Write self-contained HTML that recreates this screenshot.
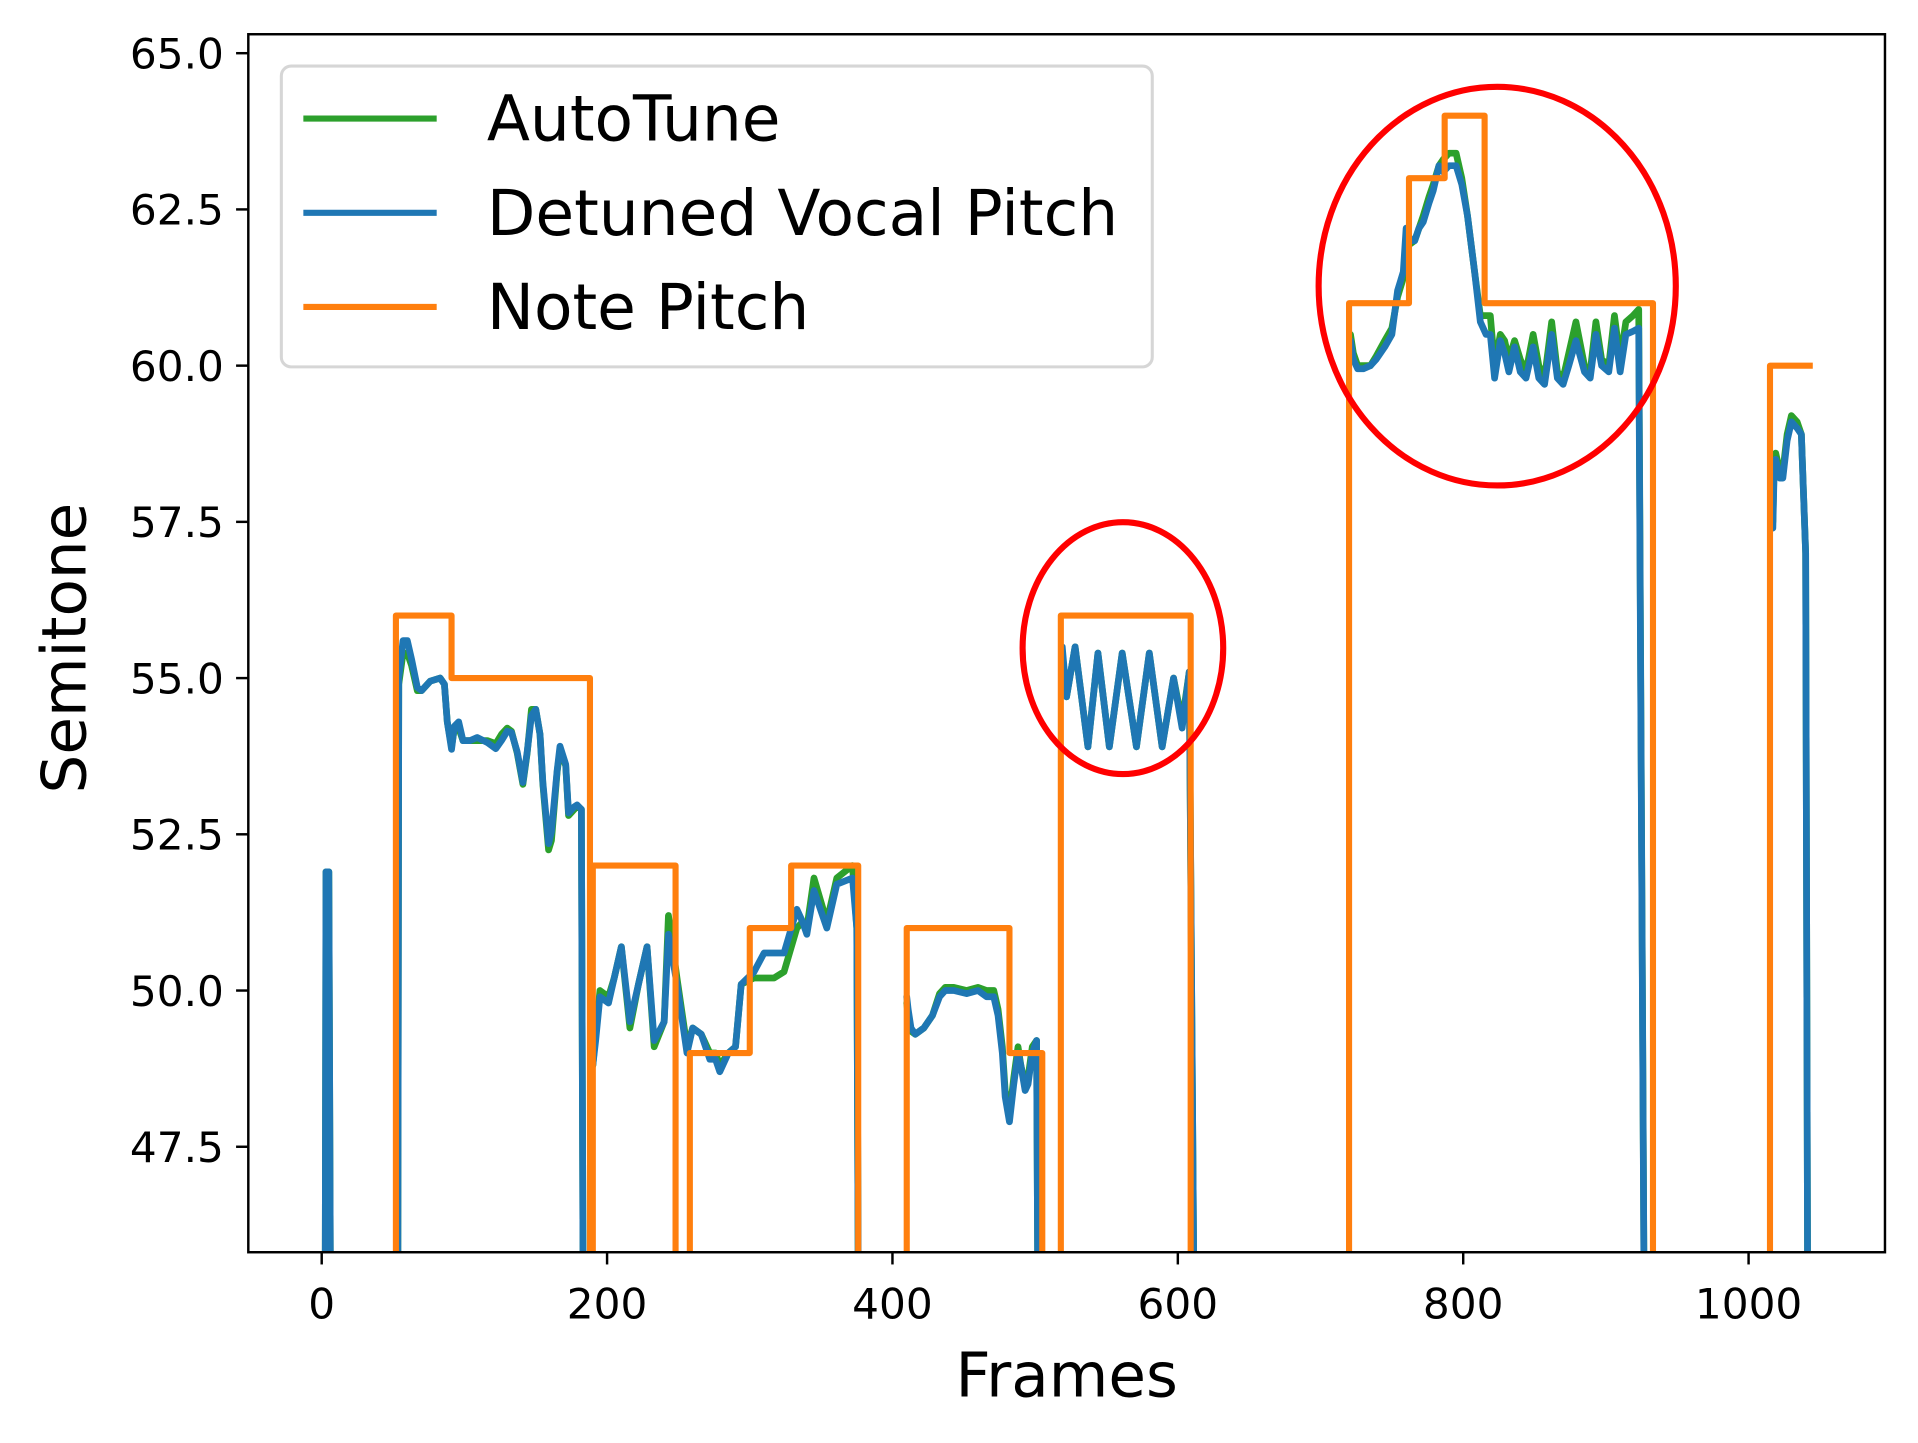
<!DOCTYPE html>
<html><head><meta charset="utf-8"><style>
html,body{margin:0;padding:0;background:#fff;overflow:hidden;width:1918px;height:1443px;}
svg{display:block;}
text{font-family:"DejaVu Sans","Liberation Sans",sans-serif;fill:#000;}
</style></head><body>
<svg id="chart" width="1918" height="1443" viewBox="0 0 1568 1180" preserveAspectRatio="none" xmlns="http://www.w3.org/2000/svg">
<defs><clipPath id="plotclip"><rect x="203" y="28" width="1338" height="996"/></clipPath></defs>
<rect x="0" y="0" width="1568" height="1180" fill="#fff"/>
<g id="xticks"></g>
<g id="yticks"></g>
<g id="series" clip-path="url(#plotclip)"></g>
<rect x="203" y="28" width="1338" height="996" fill="none" stroke="#000" stroke-width="2"/>
<text x="872" y="1142" font-size="50" text-anchor="middle">Frames</text>
<text transform="translate(70,530) rotate(-90)" font-size="50" text-anchor="middle">Semitone</text>
<ellipse cx="918" cy="530" rx="82" ry="103" fill="none" stroke="#ff0000" stroke-width="5"/>
<ellipse cx="1224" cy="234" rx="146" ry="163" fill="none" stroke="#ff0000" stroke-width="5"/>
<g>
<rect x="230" y="54" width="712" height="246" rx="8" fill="#fff" fill-opacity="0.8" stroke="#d6d6d6" stroke-width="2.5"/>
<line x1="248" y1="97" x2="357" y2="97" stroke="#2ca02c" stroke-width="5"/>
<text x="398" y="115" font-size="51.5">AutoTune</text>
<line x1="248" y1="174" x2="357" y2="174" stroke="#1f77b4" stroke-width="5"/>
<text x="398" y="192" font-size="51.5">Detuned Vocal Pitch</text>
<line x1="248" y1="251" x2="357" y2="251" stroke="#ff7f0e" stroke-width="5"/>
<text x="398" y="269" font-size="51.5">Note Pitch</text>
</g>
</svg>
<script>
const xTickValues = [0, 200, 400, 600, 800, 1000];
const yTickValues = [47.5, 50.0, 52.5, 55.0, 57.5, 60.0, 62.5, 65.0];
const noteFrames = [52,52,91,91,188,188,190,190,248,248,258,258,300,300,329,329,376,376,410,410,482,482,505,505,518,518,609,609,720,720,762,762,787,787,815,815,933,933,1015,1015,1045];
const noteValues = [40,56,56,55,55,40,40,52,52,40,40,49,49,51,51,52,52,40,40,51,51,49,49,40,40,56,56,40,40,61,61,63,63,64,64,61,61,40,40,60,60];
const pitchFrames = [2,3,5,7,null,
53,54,57,60,63,67,70,76,83,86,88,91,93,96,99,104,109,116,122,126,130,133,137,141,144,147,150,153,155,159,161,165,167,171,173,177,179,182,184,186,null,
190,192,195,201,205,210,216,222,228,233,240,243,249,256,260,266,272,276,279,285,290,294,303,310,317,324,333,337,340,345,354,361,372,375,377,380,null,
410,411,413,416,422,428,433,437,443,452,460,466,471,474,477,479,482,485,488,490,493,495,498,501,503,505,null,
519,522,528,537,544,552,561,571,580,589,597,603,608,613,616,null,
721,723,726,730,735,739,745,750,754,758,760,763,766,769,772,776,779,783,786,790,795,799,803,808,812,816,819,822,826,829,832,836,840,844,849,853,857,862,866,870,874,879,885,889,893,897,902,906,910,914,919,923,928,932,null,
1017,1018,1019,1022,1024,1027,1030,1034,1037,1040,1042,1043];
const detunedValues = [40,51.9,51.9,40,null,
40,55.0,55.6,55.6,55.3,54.85,54.8,54.95,55.0,54.9,54.3,53.86,54.23,54.3,54.0,54.0,54.05,53.97,53.87,54.0,54.15,54.13,53.82,53.33,53.82,54.4,54.5,54.1,53.33,52.35,52.54,53.52,53.91,53.62,52.84,52.94,52.97,52.9,40,null,
40,48.8,49.2,49.9,49.8,50.2,50.7,49.5,50.1,50.7,49.2,49.5,50.9,50.1,49.0,49.4,49.3,48.9,48.9,48.7,49.0,49.1,50.1,50.3,50.6,50.6,50.6,51.3,51.1,50.9,51.6,51.0,51.7,51.8,51.0,40,null,
40,49.9,49.7,49.4,49.3,49.4,49.6,49.9,50.0,50.0,49.95,50.0,49.9,49.9,49.6,49.0,48.3,47.9,48.5,49.0,48.8,48.4,48.5,49.0,49.2,40,null,
40,55.5,54.7,55.5,53.9,55.4,53.9,55.4,53.9,55.4,53.9,55.0,54.2,55.1,40,null,
40,60.4,60.1,59.95,59.95,60.0,60.1,60.3,60.5,61.2,61.5,62.2,62.0,62.0,62.2,62.3,62.6,62.8,63.2,63.1,63.2,63.2,62.9,62.4,61.5,60.7,60.5,60.5,59.8,60.4,60.2,59.9,60.3,59.9,59.8,60.3,59.8,59.7,60.5,59.8,59.7,60.0,60.4,59.9,59.8,60.5,60.0,59.9,60.6,59.9,60.5,60.55,60.6,40,null,
40,57.4,58.4,58.5,58.2,58.2,58.8,59.1,59.0,58.9,57.0,40];
const autotuneValues = [40,51.9,51.9,40,null,
40,54.9,55.4,55.4,55.2,54.8,54.8,54.95,55.0,54.9,54.3,53.9,54.2,54.2,54.0,54.0,54.0,54.0,53.95,54.1,54.2,54.15,53.8,53.3,53.8,54.5,54.5,54.1,53.3,52.25,52.4,53.5,53.85,53.6,52.8,52.9,52.95,52.9,40,null,
40,48.8,49.3,50.0,49.9,50.2,50.7,49.4,50.1,50.7,49.1,49.5,51.2,50.2,49.1,49.4,49.3,49.0,49.0,48.8,49.0,49.1,50.1,50.2,50.2,50.2,50.3,51.0,51.1,51.0,51.8,51.1,51.8,52.0,51.0,40,null,
40,49.8,49.6,49.35,49.3,49.4,49.6,49.95,50.05,50.05,50.0,50.05,50.0,50.0,49.7,49.1,48.4,48.0,48.6,49.1,48.8,48.5,48.6,49.1,49.2,40,null,
40,55.4,54.7,55.5,53.9,55.4,53.9,55.4,53.9,55.4,53.9,55.0,54.3,55.1,40,null,
40,60.5,60.2,60.0,60.0,60.0,60.15,60.4,60.6,61.1,61.4,62.0,61.95,62.0,62.2,62.4,62.7,62.9,63.2,63.3,63.4,63.4,63.0,62.4,61.5,60.8,60.8,60.8,60.0,60.5,60.4,60.1,60.4,60.1,59.9,60.5,60.0,59.8,60.7,59.9,59.8,60.2,60.7,60.0,59.9,60.7,60.1,60.0,60.8,60.1,60.7,60.8,60.9,40,null,
40,57.5,58.5,58.6,58.3,58.3,58.9,59.2,59.1,58.9,57.0,40];

const NS = 'http://www.w3.org/2000/svg';
function xs(f){ return 263 + (f - 0) * 1.1665; }
function ys(v){ return 810 - (v - 50) * 51.1; }

const xg = document.getElementById('xticks');
xTickValues.forEach(t => {
  const ln = document.createElementNS(NS,'line');
  
  
  ln.setAttribute('x1',xs(t)); ln.setAttribute('x2',xs(t));
  ln.setAttribute('y1',1024); ln.setAttribute('y2',1034);
  ln.setAttribute('stroke','#000'); ln.setAttribute('stroke-width','2');
  xg.appendChild(ln);
  const tx = document.createElementNS(NS,'text');
  
  
  tx.setAttribute('x',xs(t)); tx.setAttribute('y',1078);
  tx.setAttribute('font-size','34.5'); tx.setAttribute('text-anchor','middle');
  tx.textContent = String(t);
  xg.appendChild(tx);
});
const yg = document.getElementById('yticks');
yTickValues.forEach(t => {
  const ln = document.createElementNS(NS,'line');
  
  
  ln.setAttribute('x1',193); ln.setAttribute('x2',203);
  ln.setAttribute('y1',ys(t)); ln.setAttribute('y2',ys(t));
  ln.setAttribute('stroke','#000'); ln.setAttribute('stroke-width','2');
  yg.appendChild(ln);
  const tx = document.createElementNS(NS,'text');
  
  
  tx.setAttribute('x',183); tx.setAttribute('y',ys(t)+12.5);
  tx.setAttribute('font-size','34.5'); tx.setAttribute('text-anchor','end');
  tx.textContent = t.toFixed(1);
  yg.appendChild(tx);
});

function pathFrom(fr, vals){
  let d = '', pen = false;
  for (let i = 0; i < fr.length; i++){
    if (fr[i] === null || vals[i] === null){ pen = false; continue; }
    d += (pen ? 'L' : 'M') + xs(fr[i]).toFixed(2) + ',' + ys(vals[i]).toFixed(2);
    pen = true;
  }
  return d;
}
const sg = document.getElementById('series');
const pg = document.createElementNS(NS,'path');


pg.setAttribute('d', pathFrom(pitchFrames, autotuneValues));
pg.setAttribute('fill','none'); pg.setAttribute('stroke','#2ca02c'); pg.setAttribute('stroke-width','5.5'); pg.setAttribute('stroke-linejoin','round'); pg.setAttribute('stroke-linecap','round');
sg.appendChild(pg);
const pb = document.createElementNS(NS,'path');


pb.setAttribute('d', pathFrom(pitchFrames, detunedValues));
pb.setAttribute('fill','none'); pb.setAttribute('stroke','#1f77b4'); pb.setAttribute('stroke-width','5.5'); pb.setAttribute('stroke-linejoin','round'); pb.setAttribute('stroke-linecap','round');
sg.appendChild(pb);
const po = document.createElementNS(NS,'path');


po.setAttribute('d', pathFrom(noteFrames, noteValues));
po.setAttribute('fill','none'); po.setAttribute('stroke','#ff7f0e'); po.setAttribute('stroke-width','5'); po.setAttribute('stroke-linejoin','round');
sg.appendChild(po);
</script>
</body></html>
